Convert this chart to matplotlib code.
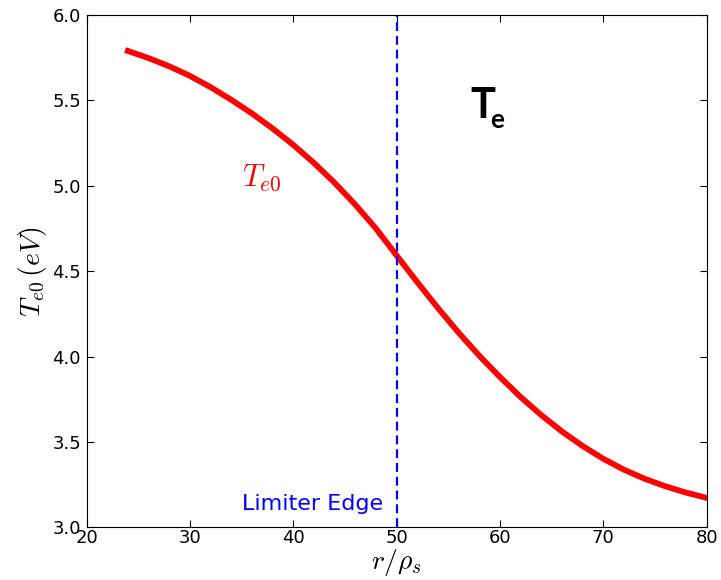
import matplotlib
matplotlib.use("Agg")
import matplotlib.pyplot as plt

# profile
r = [24, 26, 28, 30, 32, 34, 36, 38, 40, 42, 44, 46, 48, 50, 52, 54,
     56, 58, 60, 62, 64, 66, 68, 70, 72, 74, 76, 78, 80]
te0 = [5.79, 5.748, 5.70, 5.644, 5.578, 5.504, 5.424, 5.336, 5.24, 5.134,
       5.018, 4.89, 4.75, 4.592, 4.436, 4.284, 4.14, 4.005, 3.88, 3.763,
       3.657, 3.561, 3.476, 3.401, 3.337, 3.284, 3.24, 3.203, 3.172]
limiter = 50
xticks = [20, 30, 40, 50, 60, 70, 80]
yticks = [3.0, 3.5, 4.0, 4.5, 5.0, 5.5, 6.0]

plt.rcParams['mathtext.fontset'] = 'cm'

fig = plt.figure(figsize=(7.21, 5.8), dpi=100)
ax = fig.add_axes([0.12, 0.091, 0.86, 0.883])

ax.plot(r, te0, color='red', lw=4.2, solid_joinstyle='round')
ax.axvline(limiter, color='blue', lw=1.6, linestyle='--', dashes=(4, 2.2))

ax.set_xlim(20, 80)
ax.set_ylim(3.0, 6.0)
ax.set_xticks(xticks)
ax.set_yticks(yticks)
ax.set_yticklabels(['%.1f' % v for v in yticks])
ax.tick_params(direction='in', top=True, right=True, length=5, width=0.8,
               labelsize=13)
ax.tick_params(axis='x', pad=1)
ax.tick_params(axis='y', pad=4)

ax.set_xlabel(r'$r/\rho_s$', fontsize=20, labelpad=0)
ax.set_ylabel(r'$T_{e0}\,(eV)$', fontsize=20, labelpad=2)

ax.text(35, 5.0, r'$T_{e0}$', color='red', fontsize=22, va='baseline')
ax.text(35, 3.1, 'Limiter Edge', color='blue', fontsize=16, va='baseline')
ax.text(57.15, 5.395, 'T', fontsize=30, fontweight='bold', family='Lato',
        va='baseline')
ax.text(59.1, 5.34, 'e', fontsize=19, fontweight='bold', family='Lato',
        va='baseline')

fig.savefig('out.png', dpi=100)
